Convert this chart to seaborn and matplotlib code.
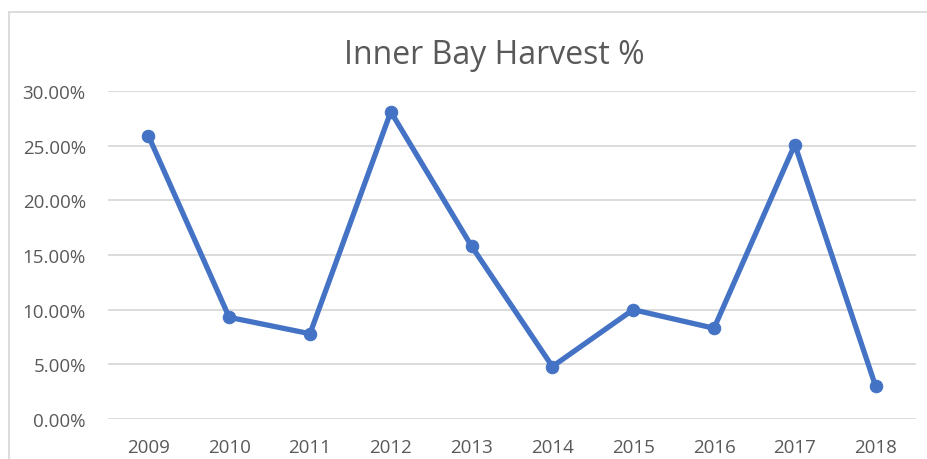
import matplotlib
matplotlib.use('Agg')
import matplotlib.pyplot as plt
import seaborn as sns
import pandas as pd
from matplotlib.patches import Rectangle
from matplotlib.ticker import FuncFormatter

# Chart values.
years = ['2009', '2010', '2011', '2012', '2013', '2014', '2015', '2016', '2017', '2018']
harvest_pct = [25.9, 9.3, 7.8, 28.1, 15.8, 4.8, 10.0, 8.3, 25.1, 3.0]
y_ticks = [0, 5, 10, 15, 20, 25, 30]


def main():
    df = pd.DataFrame({'year': years, 'pct': harvest_pct})

    sns.set_style('white')
    plt.rcParams['font.family'] = ['Open Sans', 'DejaVu Sans']

    fig = plt.figure(figsize=(9.27, 4.6), dpi=100)
    ax = fig.add_axes([108 / 927, 40 / 460, 808 / 927, 328 / 460])

    sns.lineplot(data=df, x='year', y='pct', ax=ax, color='#4472C4',
                 linewidth=3.8, marker='o', markersize=9,
                 markeredgecolor='#4472C4', sort=False)

    ax.set_xlim(-0.5, len(years) - 0.5)
    ax.set_ylim(0, 30)
    ax.set_yticks(y_ticks)
    ax.yaxis.set_major_formatter(FuncFormatter(lambda v, p: f'{v:.2f}%'))
    ax.grid(axis='y', color='#d9d9d9', linewidth=1.3)
    ax.set_axisbelow(True)
    for s in ax.spines.values():
        s.set_visible(False)
    ax.tick_params(axis='both', length=0, labelsize=13.5, colors='#595959')
    ax.tick_params(axis='y', pad=16)
    ax.tick_params(axis='x', pad=14)
    ax.set_xlabel('')
    ax.set_ylabel('')

    fig.text(494 / 927, 1 - 56 / 460, 'Inner Bay Harvest %', ha='center',
             va='center', fontsize=23, color='#595959')

    # chart frame (only left and top edges visible in the crop)
    fig.add_artist(Rectangle((9 / 927, -0.1), 1.0, 1 - 13 / 460 + 0.1,
                             transform=fig.transFigure, fill=False,
                             edgecolor='#d9d9d9', linewidth=1.3))

    fig.savefig('out.png', dpi=100)


if __name__ == '__main__':
    main()
